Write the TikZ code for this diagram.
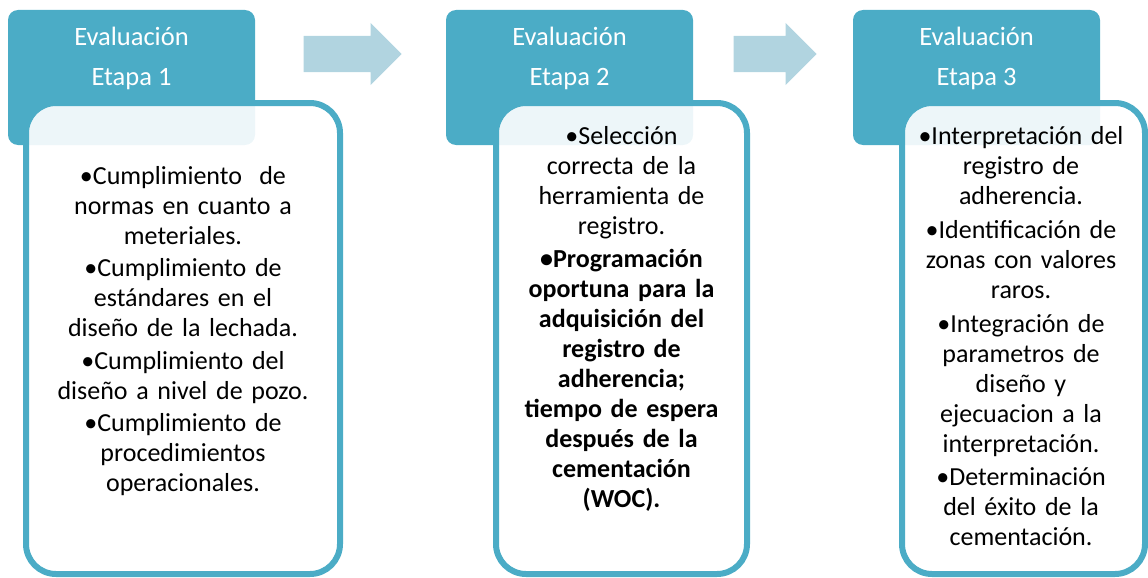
\documentclass[tikz,border=0pt]{standalone}
\usepackage{fontspec}
\setmainfont{Carlito}
\usetikzlibrary{positioning, shapes.arrows}
\definecolor{etapablue}{RGB}{75,172,198}
\definecolor{arrowblue}{RGB}{177,212,224}

\begin{document}
\begin{tikzpicture}[
        x=1pt, y=-1pt,
        header/.style={rectangle, rounded corners=10pt, fill=etapablue, minimum width=247pt, minimum height=135pt, inner sep=0pt},
        title/.style={text=white, align=center, font=\fontsize{26.5}{40}\selectfont, inner sep=0pt},
        body/.style={rectangle, rounded corners=30pt, draw=etapablue, line width=6pt, fill=white, fill opacity=0.9, minimum height=471pt, inner sep=0pt},
        items/.style={align=center, text width=300pt, font=\fontsize{26}{30}\selectfont, inner sep=0pt, anchor=north},
        flow/.style={single arrow, fill=arrowblue, single arrow head extend=13pt, inner xsep=0pt, inner ysep=18pt, anchor=tip},
    ]
    \useasboundingbox (0,0) rectangle (1148,578);

        % Draw the stage headers
        \foreach \name / \x in {1/131.5, 2/569.5, 3/976.5}
            \node[header] (H-\name) at (\x,77.5) {};

        % Draw the body boxes over the headers
        \foreach \name / \x / \w in {1/183/314, 2/621.5/251, 3/1023.5/243}
            \node[body, minimum width=\w pt] (B-\name) at (\x,338.5) {};

        % Titles
        \foreach \name in {1,2,3}
            \node[title, anchor=north] (T-\name) at ([yshift=-17pt]H-\name.north) {Evaluación\\Etapa \name};

        % Arrows between the stages
        \node[flow, minimum height=98pt] (A-1) at (402,54) {};
        \node[flow, minimum height=83pt] (A-2) at (817,54) {};

        % Item lists
        \node[items] (L-1) at (183,166) {•Cumplimiento\ \ de\\normas en cuanto a\\meteriales.\\[2.5pt]
            •Cumplimiento de\\estándares en el\\diseño de la lechada.\\[2.5pt]
            •Cumplimiento del\\diseño a nivel de pozo.\\[2.5pt]
            •Cumplimiento de\\procedimientos\\operacionales.};
        \node[items] (L-2) at (621.5,126) {•Selección\\correcta de la\\herramienta de\\registro.\\[3pt]
            \bfseries •Programación\\\bfseries oportuna para la\\\bfseries adquisición del\\\bfseries registro de\\\bfseries adherencia;\\\bfseries tiempo de espera\\\bfseries después de la\\\bfseries cementación\\\bfseries (WOC).};
        \node[items] (L-3) at (1021,126) {•Interpretación del\\registro de\\adherencia.\\[4pt]
            •Identificación de\\zonas con valores\\raros.\\[4pt]
            •Integración de\\parametros de\\diseño y\\ejecuacion a la\\interpretación.\\[3pt]
            •Determinación\\del éxito de la\\cementación.};
    \end{tikzpicture}
\end{document}
